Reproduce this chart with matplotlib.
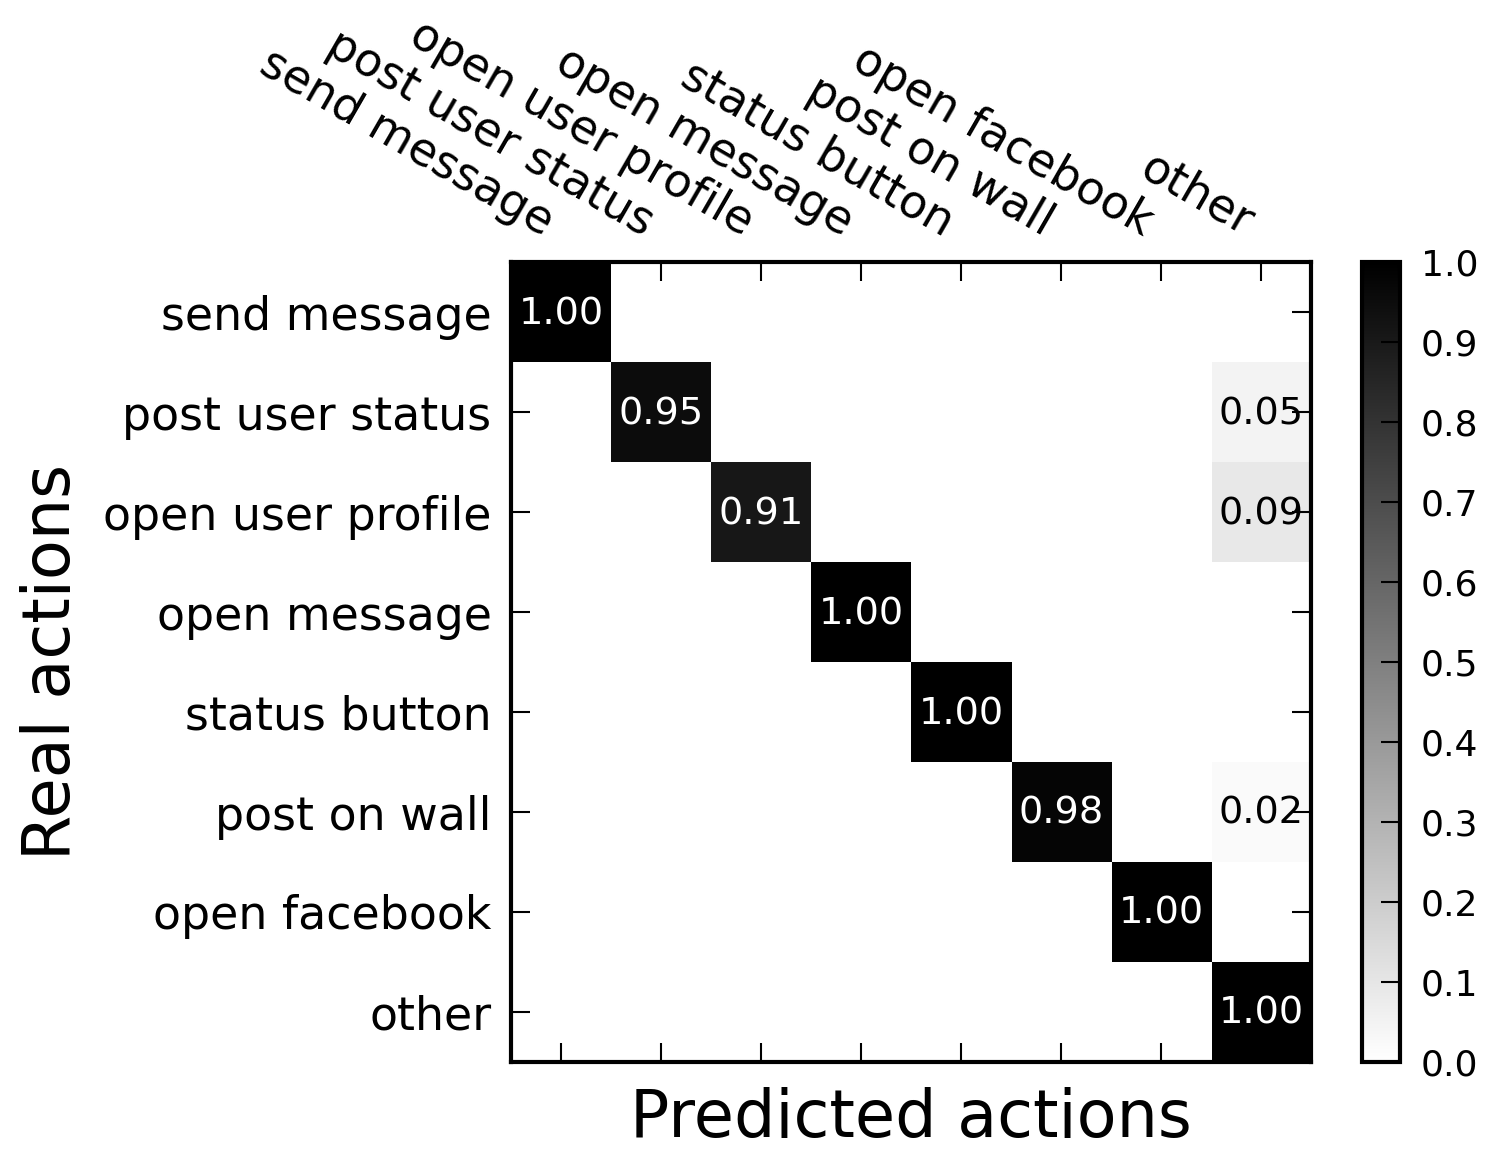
import numpy as np
import matplotlib
matplotlib.use("Agg")
import matplotlib.pyplot as plt

labels = ["send message", "post user status", "open user profile", "open message",
          "status button", "post on wall", "open facebook", "other"]
diag_values = [1.00, 0.95, 0.91, 1.00, 1.00, 0.98, 1.00, 1.00]
other_col_values = [0.0, 0.05, 0.09, 0.0, 0.0, 0.02, 0.0, 1.00]

n = len(labels)
cm = np.zeros((n, n))
for i in range(n):
    cm[i, i] = diag_values[i]
    cm[i, n - 1] = other_col_values[i] if i != n - 1 else diag_values[i]

fig = plt.figure(figsize=(14.91, 11.6), dpi=100)
ax = fig.add_axes([0.3427, 0.0845, 0.5366, 0.6896])
cax = fig.add_axes([0.9135, 0.0845, 0.0255, 0.6896])

im = ax.imshow(cm, cmap="gray_r", vmin=0, vmax=1, interpolation="nearest", aspect="auto")

for i in range(n):
    for j in range(n):
        v = cm[i, j]
        if v > 0:
            ax.text(j, i + 0.02, f"{v:.2f}", ha="center", va="center", fontsize=27.5,
                    color="white" if v > 0.5 else "black")

ax.set_xticks(range(n))
ax.set_yticks(range(n))
ax.set_xticklabels(labels, rotation=-30, ha="right", fontsize=33)
ax.set_yticklabels(labels, fontsize=33)
ax.xaxis.tick_top()
ax.tick_params(axis="both", which="both", direction="in", length=14, width=1.5,
               top=True, bottom=True, left=True, right=True, labeltop=True, labelbottom=False)
ax.tick_params(axis="x", pad=12)
ax.tick_params(axis="y", pad=14)
for s in ax.spines.values():
    s.set_linewidth(3)

ax.set_xlabel("Predicted actions", fontsize=47, labelpad=18)
ax.xaxis.set_label_position("bottom")
ax.set_ylabel("Real actions", fontsize=47, labelpad=14)

cb = fig.colorbar(im, cax=cax, ticks=np.linspace(0, 1, 11))
cb.ax.tick_params(direction="in", length=14, width=1.5, labelsize=26, pad=15)
cb.outline.set_linewidth(3)
cb.ax.set_yticklabels([f"{t:.1f}" for t in np.linspace(0, 1, 11)])

fig.savefig("out.png", dpi=100)
